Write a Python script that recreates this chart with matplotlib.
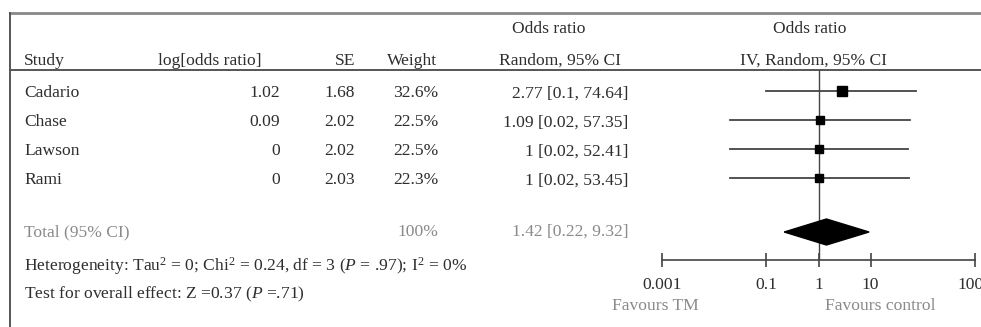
import numpy as np
import matplotlib
matplotlib.use("Agg")
import matplotlib.pyplot as plt

# Study-level data
studies = ["Cadario", "Chase", "Lawson", "Rami"]
log_or = [1.02, 0.09, 0.0, 0.0]
se = [1.68, 2.02, 2.02, 2.03]
weight = [32.6, 22.5, 22.5, 22.3]
odds = [2.77, 1.09, 1.0, 1.0]
ci_low = [0.1, 0.02, 0.02, 0.02]
ci_high = [74.64, 57.35, 52.41, 53.45]

# Pooled estimate
total_odds = 1.42
total_low = 0.22
total_high = 9.32
total_weight = 100

ticks = [0.001, 0.1, 1, 10, 1000]
tick_labels = ["0.001", "0.1", "1", "10", "1000"]

SERIF = "Liberation Serif"
plt.rcParams["font.family"] = SERIF
plt.rcParams["mathtext.fontset"] = "custom"
plt.rcParams["mathtext.rm"] = SERIF
plt.rcParams["mathtext.it"] = SERIF + ":italic"

TXT = "#2e2e2e"
GREY = "#8a8a8a"
FS = 12.6

W, H = 981, 327
fig = plt.figure(figsize=(W / 100, H / 100), dpi=100)

# table axes: x in pixels, y in row units (row pitch 29 px, first row at 91 px)
def row(py):
    return (py - 91) / 29.0

tab = fig.add_axes([0, 0, 1, 1])
tab.set_xlim(0, W)
tab.set_ylim(row(H), row(0))
tab.axis("off")

# frame lines
tab.plot([10, W], [row(13), row(13)], color="#888888", lw=2.0)
tab.plot([10, W], [row(70), row(70)], color="#555555", lw=1.4)
tab.plot([10, 10], [row(13), row(H)], color="#555555", lw=1.4)

# headers
hy1, hy2 = row(29), row(61)
tab.text(549, hy1, "Odds ratio", ha="center", va="center", fontsize=FS, color=TXT)
tab.text(810, hy1, "Odds ratio", ha="center", va="center", fontsize=FS, color=TXT)
tab.text(24, hy2, "Study", ha="left", va="center", fontsize=FS, color=TXT)
tab.text(158, hy2, "log[odds ratio]", ha="left", va="center", fontsize=FS, color=TXT)
tab.text(355, hy2, "SE", ha="right", va="center", fontsize=FS, color=TXT)
tab.text(437, hy2, "Weight", ha="right", va="center", fontsize=FS, color=TXT)
tab.text(560, hy2, "Random, 95% CI", ha="center", va="center", fontsize=FS, color=TXT)
tab.text(813, hy2, "IV, Random, 95% CI", ha="center", va="center", fontsize=FS, color=TXT)

# study rows
for i, name in enumerate(studies):
    yy = i + 0.08
    tab.text(24, yy, name, ha="left", va="center", fontsize=FS, color=TXT)
    tab.text(280, yy, f"{log_or[i]:g}", ha="right", va="center", fontsize=FS, color=TXT)
    tab.text(355, yy, f"{se[i]:.2f}", ha="right", va="center", fontsize=FS, color=TXT)
    tab.text(438, yy, f"{weight[i]:.1f}%", ha="right", va="center", fontsize=FS, color=TXT)
    tab.text(628, yy, f"{odds[i]:g} [{ci_low[i]:g}, {ci_high[i]:g}]",
             ha="right", va="center", fontsize=FS, color=TXT)

# total row
ty = row(232)
tab.text(24, ty, "Total (95% CI)", ha="left", va="center", fontsize=FS, color=GREY)
tab.text(438, ty, f"{total_weight}%", ha="right", va="center", fontsize=FS, color=GREY)
tab.text(628, ty, f"{total_odds:g} [{total_low:g}, {total_high:g}]",
         ha="right", va="center", fontsize=FS, color=GREY)

tab.text(24, row(266),
         r"Heterogeneity: Tau$^2$ = 0; Chi$^2$ = 0.24, df = 3 ($P$ = .97); I$^2$ = 0%",
         ha="left", va="center", fontsize=FS, color=TXT)
tab.text(24, row(294), r"Test for overall effect: Z =0.37 ($P$ =.71)",
         ha="left", va="center", fontsize=FS, color=TXT)

# forest plot axes on a log scale
x0, x1 = 662, 975
y_top, y_axis = 70, 260
ax = fig.add_axes([x0 / W, (H - y_axis) / H, (x1 - x0) / W, (y_axis - y_top) / H])
ax.set_xscale("log")
ax.set_xlim(ticks[0], ticks[-1])
ax.set_ylim(row(y_axis), row(y_top))
ax.patch.set_alpha(0)
for s in ["top", "left", "right"]:
    ax.spines[s].set_visible(False)
ax.spines["bottom"].set_color("#444444")
ax.spines["bottom"].set_linewidth(1.2)
ax.set_yticks([])
ax.set_xticks(ticks)
ax.set_xticklabels(tick_labels)
ax.minorticks_off()
ax.tick_params(axis="x", direction="inout", length=10, width=1.2, color="#444444",
               labelsize=FS, labelcolor=TXT, pad=7)

ax.axvline(1, color="#444444", lw=1.0, zorder=1)

for i in range(len(studies)):
    ax.plot([ci_low[i], ci_high[i]], [i, i], color="#444444", lw=1.3, zorder=2)
    ax.plot(odds[i], i, marker="s", color="black", markersize=weight[i] * 0.24,
            linestyle="none", zorder=3)

# pooled diamond
dh = 13 / 29.0
ax.fill([total_low, total_odds, total_high, total_odds],
        [ty, ty - dh, ty, ty + dh], color="black", zorder=3)

tab.text(655, row(306), "Favours TM", ha="center", va="center", fontsize=FS, color=GREY)
tab.text(880, row(306), "Favours control", ha="center", va="center", fontsize=FS, color=GREY)

fig.savefig("out.png", dpi=100)
